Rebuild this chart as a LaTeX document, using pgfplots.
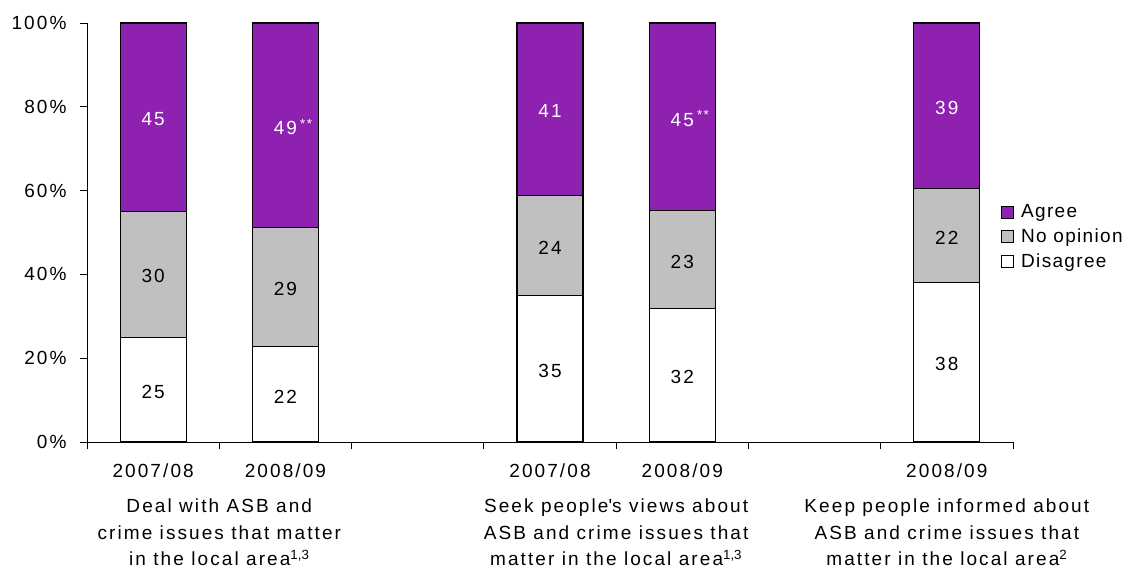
\documentclass[border=0pt]{standalone}
\usepackage{pgfplots}
\pgfplotsset{compat=1.18}
\usepackage{fontspec}
\setmainfont{Liberation Sans}[LetterSpace=11]
\definecolor{agree}{RGB}{143,33,176}
\definecolor{noop}{RGB}{192,192,192}
\newcommand{\dstar}{\rlap{\,\textsuperscript{**}}}
\newcommand{\supnote}[1]{\textsuperscript{\addfontfeatures{LetterSpace=0}#1}}
\begin{document}
\fontsize{19}{26.5}\selectfont
\begin{tikzpicture}
\begin{axis}[
  name=ax,
  scale only axis, width=926pt, height=419pt,
  xmin=-0.5, xmax=6.5, ymin=0, ymax=100,
  ybar stacked, bar width=66pt,
  axis x line*=bottom, axis y line*=left,
  axis line style={line width=0.9pt},
  tick style={line width=0.9pt, black},
  tick align=outside, major tick length=7pt,
  ytick={0,20,...,100}, yticklabels={0\%,20\%,40\%,60\%,80\%,100\%},
  yticklabel style={xshift=-7pt},
  xtick={-0.5,0.5,...,6.5}, xticklabels={},
  extra x ticks={0,1,3,4,6},
  extra x tick labels={2007/08,2008/09,2007/08,2008/09,2008/09},
  extra x tick style={major tick length=0pt, tick style={draw=none},
    tick label style={yshift=-15pt}},
  clip=false,
  point meta=explicit symbolic,
  nodes near coords,
  every node near coord/.append style={anchor=center, yshift=-2pt},
  legend style={at={(rel axis cs:0.984,0.578)}, anchor=north west, draw=none, fill=none,
    row sep=4.5pt, /tikz/every odd column/.append style={column sep=5pt},
    font=\addfontfeatures{LetterSpace=7}},
  legend cell align=left,
  reverse legend,
  legend image code/.code={\draw[#1, line width=0.8pt] (0pt,-6pt) rectangle (12pt,6pt);},
]
\addplot[fill=white, draw=black, line width=1.1pt] coordinates {
  (0,25)[25] (1,22.7)[22] (3,34.9)[35] (4,31.8)[32] (6,38)[38]};
\addplot[fill=noop, draw=black, line width=1.1pt] coordinates {
  (0,30)[30] (1,28.5)[29] (3,24)[24] (4,23.5)[23] (6,22.5)[22]};
\addplot[fill=agree, draw=black, line width=1.1pt, every node near coord/.append style={white}] coordinates {
  (0,45)[45] (1,48.8)[49\dstar] (3,41.1)[41] (4,44.7)[45\dstar] (6,39.5)[39]};
\legend{Disagree,No opinion,Agree}
\coordinate (O) at (rel axis cs:0,0);
\node[anchor=north, inner sep=0pt, align=center, yshift=-57pt] at (axis cs:0.5,0)
  {Deal with ASB and\\crime issues that matter\\in the local area\supnote{1,3}};
\node[anchor=north, inner sep=0pt, align=center, yshift=-57pt] at (axis cs:3.5,0)
  {Seek people\textquotesingle s views about\\ASB and crime issues that\\matter in the local area\supnote{1,3}};
\node[anchor=north, inner sep=0pt, align=center, yshift=-57pt] at (axis cs:6,0)
  {Keep people informed about\\ASB and crime issues that\\matter in the local area\supnote{2}};
\end{axis}
\pgfresetboundingbox
\path[use as bounding box] ([shift={(-87pt,-130pt)}]O) rectangle ([shift={(1043pt,442pt)}]O);
\end{tikzpicture}
\end{document}
